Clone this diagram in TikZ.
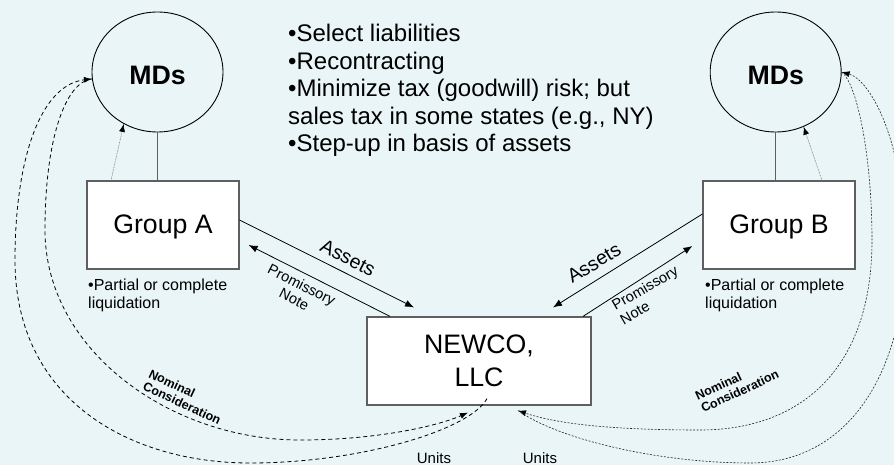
\documentclass[tikz,border=0pt]{standalone}
\usepackage{fontspec}
\setmainfont{Liberation Sans}
\usetikzlibrary{arrows.meta,shapes.geometric,calc}
\definecolor{bgc}{RGB}{233,245,246}
\definecolor{edgegray}{RGB}{95,95,95}
\tikzset{
  mdnode/.style={ellipse, draw=black, line width=0.9pt, minimum width=131pt, minimum height=120pt, inner sep=0pt, text height=26pt, text depth=0pt, font=\fontsize{26.7}{30}\selectfont\bfseries},
  boxnode/.style={rectangle, draw=edgegray, fill=white, line width=1.2pt, inner sep=0pt, font=\fontsize{26.7}{33}\selectfont, align=center},
  link/.style={draw=edgegray, line width=1.2pt},
  flow/.style={draw=black, line width=0.8pt, -{Latex[length=9pt,width=7pt]}},
  hint/.style={draw=gray, line width=0.6pt, dash pattern=on 0.8pt off 0.8pt, -{Latex[length=8pt,width=6pt,color=black]}},
  leftloop/.style={draw=black, line width=0.8pt, dash pattern=on 4pt off 3pt, -{Latex[length=8pt,width=6pt]}},
  rightloop/.style={draw=black!85, line width=0.6pt, dash pattern=on 2pt off 1.5pt, -{Latex[length=8pt,width=6pt,color=black]}},
  flowlabel/.style={inner sep=0pt, font=\fontsize{19.5}{22}\selectfont},
  notelabel/.style={inner sep=0pt, font=\fontsize{14.67}{16.5}\selectfont},
  nomlabel/.style={inner sep=0pt, align=left, font=\fontsize{12.5}{13.5}\selectfont\bfseries},
  liqlabel/.style={inner sep=0pt, align=left, anchor=north west, font=\fontsize{16}{18}\selectfont},
  unitlabel/.style={inner sep=0pt, anchor=base, font=\fontsize{15}{17}\selectfont}
}
\begin{document}
\begin{tikzpicture}[x=1pt,y=-1pt]
\useasboundingbox (0,0) rectangle (894,465);
\clip (0,0) rectangle (894,465);
\fill[bgc] (0,0) rectangle (894,465);

% main nodes
\node[mdnode] (mdA) at (157.5,72) {MDs};
\node[mdnode] (mdB) at (775.7,72) {MDs};
\node[boxnode, minimum width=152pt, minimum height=88pt, text height=19.5pt, text depth=3pt] (grpA) at (163,225) {Group A};
\node[boxnode, minimum width=152pt, minimum height=88pt, text height=19.5pt, text depth=3pt] (grpB) at (779,225) {Group B};
\node[boxnode, minimum width=224pt, minimum height=88pt] (newco) at (479,361) {NEWCO,\\LLC};

% texts
\node[anchor=north west, inner sep=0pt, align=left, font=\fontsize{24}{27.5}\selectfont] (pts) at (288,24)
  {•Select liabilities\\•Recontracting\\•Minimize tax (goodwill) risk; but\\sales tax in some states (e.g., NY)\\•Step-up in basis of assets};
\node[liqlabel] (liqA) at (88,278.3) {•Partial or complete\\liquidation};
\node[liqlabel] (liqB) at (705,278.3) {•Partial or complete\\liquidation};

% MDs to groups
\draw[link] (mdA.south) -- (mdA.south |- grpA.north);
\draw[link] (mdB.south) -- (mdB.south |- grpB.north);
\draw[hint] ([xshift=-52pt]grpA.north) -- (mdA.237);
\draw[hint] ([xshift=43pt]grpB.north) -- (mdB.297);

% asset flows
\draw[flow] ([yshift=5pt]grpA.east) -- ([xshift=-65pt,yshift=9pt]newco.north);
\draw[flow] ([xshift=-89pt]newco.north) -- ([xshift=9pt,yshift=-20pt]grpA.east);
\draw[flow] ([yshift=11pt]grpB.west) -- ([xshift=74pt,yshift=9pt]newco.north);
\draw[flow] ([xshift=104pt]newco.north) -- ([xshift=-10pt,yshift=-21pt]grpB.west);

\node[flowlabel, rotate=-27] (assA) at (348,258) {Assets};
\node[flowlabel, rotate=31] (assB) at (594,263) {Assets};
\node[notelabel, align=center, rotate=-27] (pnA) at (298,292) {Promissory\\Note};
\node[notelabel, align=left, rotate=30] (pnB) at (649,295) {Promissory\\Note};

% left loops
\draw[leftloop] (mdA.186) .. controls (65,82) and (45,140) .. (45,230)
  .. controls (45,350) and (170,440) .. (300,440)
  .. controls (380,440) and (440,425) .. ([xshift=-11pt,yshift=-7pt]newco.south);
\draw[leftloop] ([xshift=8pt,yshift=7pt]newco.south) .. controls (470,430) and (360,463) .. (250,463)
  .. controls (130,463) and (15,400) .. (15,260)
  .. controls (15,160) and (40,85) .. (mdA.186);

% right loops
\draw[rightloop] (mdB.east) .. controls (858,85) and (872,160) .. (872,240)
  .. controls (872,370) and (800,430) .. (700,430)
  .. controls (620,430) and (560,425) .. ([xshift=39pt,yshift=-5pt]newco.south);
\draw[rightloop] ([xshift=39pt,yshift=-5pt]newco.south) .. controls (560,440) and (660,463) .. (750,463)
  .. controls (850,463) and (905,370) .. (905,250)
  .. controls (905,140) and (870,80) .. (mdB.east);

\node[nomlabel, rotate=-25] (nomA) at (185,397) {Nominal\\Consideration};
\node[nomlabel, rotate=25] (nomB) at (737,385) {Nominal\\Consideration};
\node[unitlabel] (unA) at (434,463) {Units};
\node[unitlabel] (unB) at (540,463) {Units};
\end{tikzpicture}
\end{document}
